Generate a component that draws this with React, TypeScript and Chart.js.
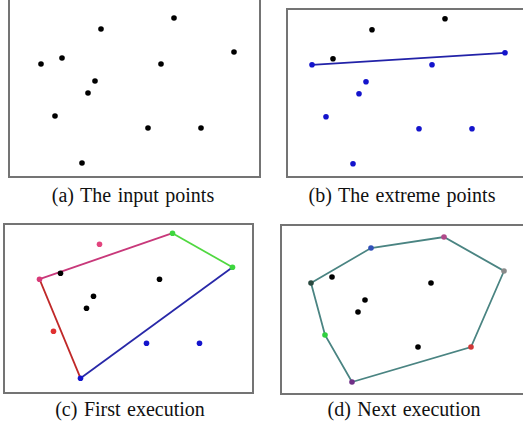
import React, { useEffect, useRef } from "react";
import { Chart, registerables } from "chart.js";

Chart.register(...registerables);

// Point set (same points in all four panels)
const X = [17.4, 10.1, 23.4, 4.1, 6.2, 16.1, 9.5, 8.8, 5.5, 14.8, 20.1, 8.2];
const Y = [16.2, 15.1, 12.8, 11.6, 12.2, 11.6, 9.9, 8.7, 6.4, 5.2, 5.2, 1.7];

const K = "#000000";
const BLUE = "#1414cc";
const COLORS_A = [K, K, K, K, K, K, K, K, K, K, K, K];
const COLORS_B = [K, K, BLUE, BLUE, K, BLUE, BLUE, BLUE, BLUE, BLUE, BLUE, BLUE];
const COLORS_C = ["#3ed63e", "#e2447e", "#3ed63e", "#d83a78", K, K, K, K, "#e03030", BLUE, BLUE, BLUE];
const COLORS_D = ["#b04a8a", "#3050b8", "#8a8a8a", "#2a4a40", K, K, K, K, "#30d040", K, "#d03838", "#703088"];

// Edges: [from index, to index, colour]
const EDGES_B: [number, number, string][] = [[3, 2, "#2222a8"]];
const EDGES_C: [number, number, string][] = [
  [3, 0, "#c8387a"],
  [0, 2, "#50d840"],
  [2, 11, "#2828a8"],
  [11, 3, "#c02828"],
];
const HULL_D = [3, 1, 0, 2, 10, 11, 8, 3];
const HULL_D_COLOR = "#4a8482";

const CAPTIONS = ["(a) The input points", "(b) The extreme points", "(c) First execution", "(d) Next execution"];

type PanelDef = {
  left: number; top: number; width: number; height: number;
  xMin: number; xMax: number; yMin: number; yMax: number;
  colors: string[];
  lines: { pts: number[]; color: string }[];
};

const PANELS: PanelDef[] = [
  { left: 8, top: -3, width: 253, height: 181, xMin: 0.8, xMax: 26.1, yMin: 0.2, yMax: 18.3, colors: COLORS_A, lines: [] },
  { left: 286, top: 8, width: 242, height: 170, xMin: 1.5, xMax: 25.7, yMin: 0.28, yMax: 17.28, colors: COLORS_B,
    lines: EDGES_B.map(([a, b, c]) => ({ pts: [a, b], color: c })) },
  { left: 3, top: 223, width: 251, height: 171, xMin: 0.45, xMax: 25.55, yMin: 0.12, yMax: 17.22, colors: COLORS_C,
    lines: EDGES_C.map(([a, b, c]) => ({ pts: [a, b], color: c })) },
  { left: 280, top: 224, width: 248, height: 171, xMin: 1.0, xMax: 25.8, yMin: 0.4, yMax: 17.5, colors: COLORS_D,
    lines: [{ pts: HULL_D, color: HULL_D_COLOR }] },
];

const CAPTION_POS = [
  { cx: 133, cy: 195 },
  { cx: 402, cy: 195 },
  { cx: 130, cy: 409 },
  { cx: 404, cy: 409 },
];

const borderPlugin = {
  id: "boxBorder",
  afterDraw(chart: any) {
    const { ctx, chartArea } = chart;
    ctx.save();
    ctx.strokeStyle = "#747474";
    ctx.lineWidth = 2;
    ctx.strokeRect(chartArea.left + 1, chartArea.top + 1, chartArea.right - chartArea.left - 2, chartArea.bottom - chartArea.top - 2);
    ctx.restore();
  },
};

function Panel({ def }: { def: PanelDef }) {
  const ref = useRef<HTMLCanvasElement | null>(null);
  useEffect(() => {
    if (!ref.current) return;
    const pts = X.map((x, i) => ({ x, y: Y[i] }));
    const datasets: any[] = [
      {
        data: pts,
        pointBackgroundColor: def.colors,
        pointBorderColor: def.colors,
        pointRadius: 2.8,
        pointHoverRadius: 2.8,
        pointBorderWidth: 0,
        showLine: false,
        clip: false,
      },
      ...def.lines.map((l) => ({
        data: l.pts.map((i) => ({ x: X[i], y: Y[i] })),
        showLine: true,
        borderColor: l.color,
        borderWidth: 1.8,
        pointRadius: 0,
        pointHoverRadius: 0,
        tension: 0,
        clip: false,
      })),
    ];
    const chart = new Chart(ref.current, {
      type: "scatter",
      data: { datasets },
      options: {
        animation: false,
        responsive: false,
        devicePixelRatio: 1,
        layout: { padding: 0, autoPadding: false },
        plugins: { legend: { display: false }, tooltip: { enabled: false } },
        scales: {
          x: { type: "linear", display: false, min: def.xMin, max: def.xMax },
          y: { type: "linear", display: false, min: def.yMin, max: def.yMax },
        },
      },
      plugins: [borderPlugin],
    });
    return () => chart.destroy();
  }, [def]);
  return (
    <canvas
      ref={ref}
      width={def.width}
      height={def.height}
      style={{ position: "absolute", left: def.left, top: def.top, width: def.width, height: def.height, display: "block" }}
    />
  );
}

export default function App() {
  return (
    <div style={{ position: "fixed", left: 0, top: 0, width: 523, height: 433, overflow: "hidden", background: "#fff" }}>
      {PANELS.map((p, i) => (
        <Panel key={i} def={p} />
      ))}
      {CAPTIONS.map((c, i) => (
        <div
          key={"c" + i}
          style={{
            position: "absolute",
            left: CAPTION_POS[i].cx - 150,
            top: CAPTION_POS[i].cy - 11,
            width: 300,
            lineHeight: "22px",
            textAlign: "center",
            fontFamily: "'Liberation Serif', 'DejaVu Serif', serif",
            fontSize: 20,
            wordSpacing: "1.5px",
            color: "#111",
            whiteSpace: "pre",
          }}
        >
          {c}
        </div>
      ))}
    </div>
  );
}
